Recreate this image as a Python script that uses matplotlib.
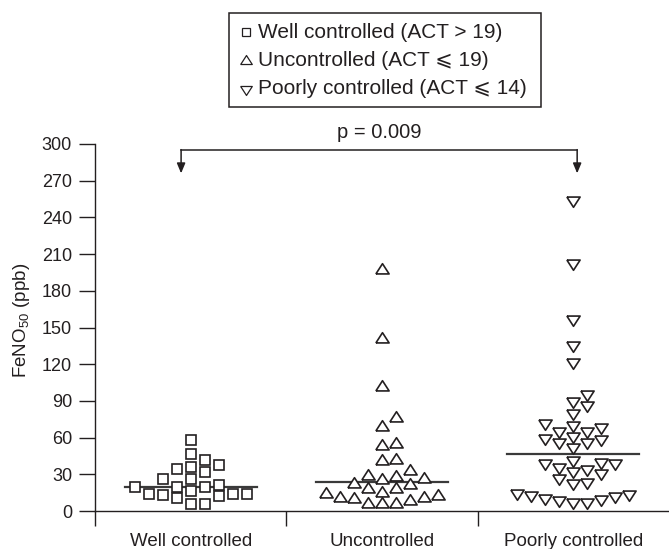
"""FeNO50 by asthma control group (column scatter with medians)."""
import numpy as np
import matplotlib
matplotlib.use("Agg")
import matplotlib.pyplot as plt
from matplotlib.lines import Line2D
from matplotlib.patches import Rectangle

groups = ["Well controlled", "Uncontrolled", "Poorly controlled"]
legend_labels = ["Well controlled (ACT > 19)",
                 "Uncontrolled (ACT \u2a7d 19)",
                 "Poorly controlled (ACT \u2a7d 14)"]

well = [58, 47, 42, 36, 32, 34, 38, 26, 26, 21, 20, 20, 20, 16, 14, 13, 11,
        6, 6, 12, 14, 14]
uncontrolled = [197, 141, 101, 76, 69, 53, 55, 41, 42, 29, 33, 26, 22, 18, 18,
                21, 25, 28, 15, 14, 11, 10, 6, 6, 6, 8, 11, 12]
poorly = [254, 203, 157, 136, 122, 96, 87, 90, 80, 72, 69, 65, 65, 70, 61, 59,
          56, 52, 56, 60, 42, 39, 36, 39, 40, 34, 31, 33, 24, 23, 27, 15, 13,
          11, 9, 7, 7, 10, 12, 14]

yticks = list(range(0, 301, 30))
p_text = "p = 0.009"

INK = "#231f20"
plt.rcParams["font.family"] = ["Liberation Sans", "DejaVu Sans"]
plt.rcParams["mathtext.fontset"] = "custom"
plt.rcParams["mathtext.rm"] = "Liberation Sans"

# slightly flattened open triangles, as in the printed figure
TRI_UP = [(-1, -0.52), (1, -0.52), (0, 1.03), (-1, -0.52)]
TRI_DOWN = [(x, -y) for x, y in TRI_UP]


def swarm(values, px_per_unit, slot, gap_px):
    """Grid column-scatter: put each point in the nearest free slot."""
    vals = np.asarray(values, float)
    taken = {}
    out = np.zeros(len(vals))
    cands = [0]
    for k in range(1, 15):
        cands += [k, -k]
    for i in np.argsort(vals, kind="stable"):
        y = vals[i] * px_per_unit
        for c in cands:
            if all(abs(y - o) >= gap_px for o in taken.get(c, [])):
                taken.setdefault(c, []).append(y)
                out[i] = c * slot
                break
    return out


W, H = 669, 549
fig = plt.figure(figsize=(W / 100, H / 100), dpi=100)
ax = fig.add_axes([95 / W, 38 / H, 574 / W, 367 / H])
ax.set_xlim(-0.5, 2.5)
ax.set_ylim(0, 300)

px_per_unit = 367 / 300
slot = 14 / (574 / 3)
markers = ["s", TRI_UP, TRI_DOWN]
sizes = [7.3, 9.8, 9.8]

for i, (vals, m, ms) in enumerate(zip([well, uncontrolled, poorly], markers, sizes)):
    dx = swarm(vals, px_per_unit, slot, 10.5)
    ax.plot(i + dx, vals, ls="none", marker=m, ms=ms, mfc="white", mec=INK,
            mew=1.2, zorder=3)
    med = np.median(vals)
    ax.plot([i - 0.345, i + 0.345], [med, med], color="#3a3a3a", lw=1.6, zorder=2)

# axes styling
for s in ("top", "right"):
    ax.spines[s].set_visible(False)
for s in ("left", "bottom"):
    ax.spines[s].set_color(INK)
    ax.spines[s].set_linewidth(1.0)

ax.set_yticks(yticks)
ax.tick_params(axis="y", direction="out", length=11.5, width=1.0, color=INK,
               labelsize=13, labelcolor=INK, pad=5)
ax.set_xticks([-0.5, 0.5, 1.5])
ax.set_xticklabels([])
ax.set_xticks([0, 1, 2], minor=True)
ax.set_xticklabels(groups, minor=True)
ax.tick_params(axis="x", which="major", direction="out", length=10.8, width=1.0,
               color=INK)
ax.tick_params(axis="x", which="minor", length=0, labelsize=13.5,
               labelcolor=INK, pad=16)

ax.set_ylabel("FeNO$_{50}$ (ppb)", fontsize=13.5, color=INK)
ax.yaxis.set_label_coords(-0.11, 0.52)

# significance bracket
xl, xr, yb, yt = -0.05, 2.02, 295, 276
ax.plot([xl, xr], [yb, yb], color=INK, lw=1.1, clip_on=False)
for x in (xl, xr):
    ax.annotate("", xy=(x, yt), xytext=(x, yb + 0.4),
                arrowprops=dict(arrowstyle="-|>,head_length=0.6,head_width=0.25",
                                color=INK, lw=1.1, shrinkA=0, shrinkB=0),
                annotation_clip=False)
ax.text((xl + xr) / 2, 302, p_text, ha="center", va="bottom", fontsize=14.5,
        color=INK)

# legend box drawn by hand so the padding matches the print
fx = lambda px: px / W
fy = lambda py: 1 - py / H
fig.add_artist(Rectangle((fx(229), fy(107)), fx(541) - fx(229), fy(13) - fy(107),
                         transform=fig.transFigure, facecolor="white",
                         edgecolor=INK, lw=1.1))
leg_ms = [6.3, 8.6, 8.6]
for row_y, m, ms, lab in zip([32, 61, 89], markers, leg_ms, legend_labels):
    fig.add_artist(Line2D([fx(246)], [fy(row_y)], transform=fig.transFigure,
                          ls="none", marker=m, ms=ms, mfc="white", mec=INK,
                          mew=0.9))
    fig.text(fx(258), fy(row_y), lab, ha="left", va="center", fontsize=15,
             color=INK)

fig.savefig("out.png", dpi=100)
